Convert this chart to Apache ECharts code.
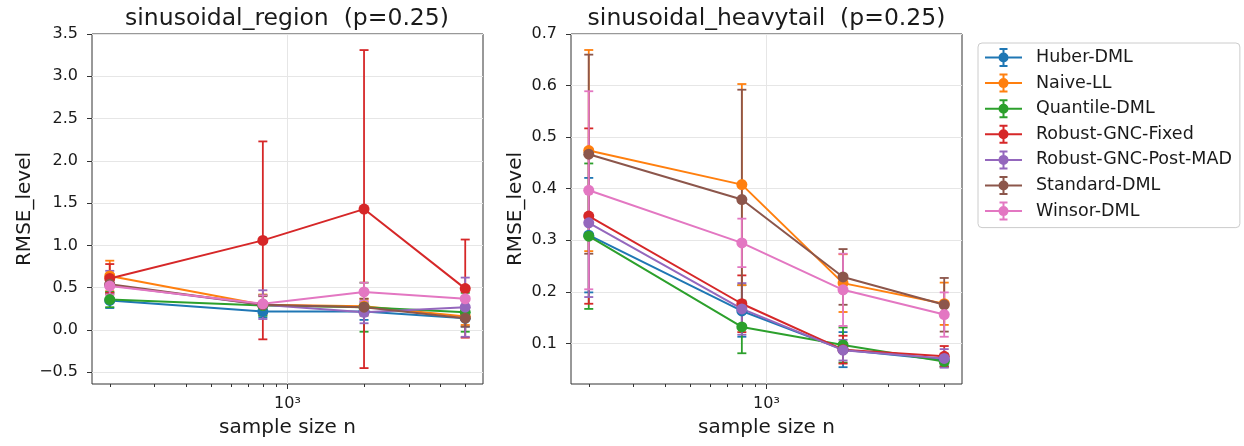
<!DOCTYPE html>
<html>
<head>
<meta charset="utf-8">
<script src="https://cdn.jsdelivr.net/npm/echarts@6/dist/echarts.min.js"></script>
<style>
  html, body { margin: 0; padding: 0; background: #fff; }
  #chart { width: 1244px; height: 446px; }
</style>
</head>
<body>
<div id="chart"></div>
<script>
const sampleSizes = [200, 800, 2000, 5000]
const methods = ['Huber-DML', 'Naive-LL', 'Quantile-DML', 'Robust-GNC-Fixed', 'Robust-GNC-Post-MAD', 'Standard-DML', 'Winsor-DML']
const colors = ['#1f77b4', '#ff7f0e', '#2ca02c', '#d62728', '#9467bd', '#8c564b', '#e377c2']

// sinusoidal_region: mean RMSE and error half-width, one row per method
const regionMean = [
  [0.35, 0.22, 0.22, 0.14],
  [0.64, 0.30, 0.28, 0.16],
  [0.36, 0.29, 0.27, 0.21],
  [0.61, 1.06, 1.43, 0.49],
  [0.53, 0.30, 0.21, 0.27],
  [0.54, 0.30, 0.27, 0.14],
  [0.52, 0.31, 0.45, 0.37]
]
const regionErr = [
  [0.09, 0.07, 0.10, 0.10],
  [0.18, 0.12, 0.09, 0.10],
  [0.09, 0.12, 0.29, 0.23],
  [0.17, 1.17, 1.88, 0.58],
  [0.17, 0.17, 0.13, 0.35],
  [0.12, 0.10, 0.10, 0.10],
  [0.10, 0.10, 0.11, 0.15]
]

// sinusoidal_heavytail
const heavyMean = [
  [0.310, 0.163, 0.088, 0.068],
  [0.474, 0.408, 0.217, 0.177],
  [0.308, 0.132, 0.097, 0.065],
  [0.347, 0.177, 0.088, 0.075],
  [0.334, 0.167, 0.087, 0.071],
  [0.467, 0.379, 0.229, 0.175],
  [0.397, 0.295, 0.204, 0.156]
]
const heavyErr = [
  [0.111, 0.050, 0.034, 0.012],
  [0.195, 0.195, 0.056, 0.041],
  [0.141, 0.051, 0.034, 0.010],
  [0.170, 0.055, 0.027, 0.020],
  [0.144, 0.050, 0.020, 0.018],
  [0.193, 0.213, 0.054, 0.052],
  [0.192, 0.047, 0.070, 0.043]
]

const xMajorTicks = [1000]
const xMinorTicks = [200, 300, 400, 500, 600, 700, 800, 900, 2000, 3000, 4000, 5000]
const regionTicks = [-0.5, 0, 0.5, 1, 1.5, 2, 2.5, 3, 3.5]
const heavyTicks = [0.1, 0.2, 0.3, 0.4, 0.5, 0.6, 0.7]

const font = 'DejaVu Sans'
const textColor = '#1a1a1a'
const xMin = 170.3
const xMax = 5873

// errorbar-legend icon: line + vertical bar + caps + marker
const legendIcon = 'path://M0 8.5H37V10.5H0Z M17.5 0H19.5V19H17.5Z M14.5 0H22.5V2H14.5Z M14.5 17H22.5V19H14.5Z M23.5 9.5A5 5 0 1 1 13.5 9.5A5 5 0 1 1 23.5 9.5Z'

function renderErrorBar(params, api) {
  const x = api.value(0)
  const y = api.value(1)
  const e = api.value(2)
  const top = api.coord([x, y + e])
  const bot = api.coord([x, y - e])
  const cap = 4.5
  const style = { stroke: api.visual('color'), lineWidth: 1.8 }
  return {
    type: 'group',
    children: [
      { type: 'line', shape: { x1: top[0], y1: top[1], x2: bot[0], y2: bot[1] }, style },
      { type: 'line', shape: { x1: top[0] - cap, y1: top[1], x2: top[0] + cap, y2: top[1] }, style },
      { type: 'line', shape: { x1: bot[0] - cap, y1: bot[1], x2: bot[0] + cap, y2: bot[1] }, style }
    ]
  }
}

function xAxes(gridIndex) {
  return [
    {
      type: 'log',
      logBase: 10,
      gridIndex,
      position: 'bottom',
      min: xMin,
      max: xMax,
      axisLine: { show: false, onZero: false },
      axisTick: { show: true, length: 5, customValues: xMajorTicks, lineStyle: { color: '#333' } },
      axisLabel: {
        customValues: xMajorTicks,
        formatter: () => '10³',
        margin: 12,
        fontFamily: font,
        fontSize: 16,
        color: textColor
      },
      splitLine: { show: true, lineStyle: { color: '#e6e6e6', width: 1 } },
      name: 'sample size n',
      nameLocation: 'middle',
      nameGap: 34,
      nameTextStyle: { fontFamily: font, fontSize: 20, color: textColor }
    },
    {
      type: 'log',
      logBase: 10,
      gridIndex,
      position: 'bottom',
      min: xMin,
      max: xMax,
      axisLine: { show: false, onZero: false },
      axisTick: { show: true, length: 3, customValues: xMinorTicks, lineStyle: { color: '#333' } },
      axisLabel: { show: false },
      splitLine: { show: false }
    }
  ]
}

function yAxis(gridIndex, min, max, ticks, splitNumber, nameGap) {
  return {
    type: 'value',
    gridIndex,
    position: 'left',
    min,
    max,
    splitNumber,
    axisLine: { show: false, onZero: false },
    axisTick: { show: true, length: 5, customValues: ticks, lineStyle: { color: '#333' } },
    axisLabel: {
      customValues: ticks,
      margin: 14,
      fontFamily: font,
      fontSize: 16,
      color: textColor,
      formatter: v => (v < 0 ? '\u2212' : '') + Math.abs(v).toFixed(1)
    },
    splitLine: { show: true, lineStyle: { color: '#e6e6e6', width: 1 } },
    name: 'RMSE_level',
    nameLocation: 'middle',
    nameRotate: 90,
    nameGap,
    nameTextStyle: { fontFamily: font, fontSize: 20, color: textColor }
  }
}

const series = []
const panels = [
  { mean: regionMean, err: regionErr, xAxisIndex: 0, yAxisIndex: 0 },
  { mean: heavyMean, err: heavyErr, xAxisIndex: 2, yAxisIndex: 1 }
]
panels.forEach(p => {
  methods.forEach((name, i) => {
    series.push({
      name,
      type: 'custom',
      xAxisIndex: p.xAxisIndex,
      yAxisIndex: p.yAxisIndex,
      z: 2,
      itemStyle: { color: colors[i] },
      renderItem: renderErrorBar,
      encode: { x: 0, y: 1 },
      data: sampleSizes.map((n, k) => [n, p.mean[i][k], p.err[i][k]]),
      silent: true
    })
  })
})
panels.forEach(p => {
  methods.forEach((name, i) => {
    series.push({
      name,
      type: 'line',
      xAxisIndex: p.xAxisIndex,
      yAxisIndex: p.yAxisIndex,
      z: 3,
      symbol: 'circle',
      symbolSize: 11,
      showAllSymbol: true,
      color: colors[i],
      lineStyle: { width: 2, color: colors[i] },
      itemStyle: { color: colors[i], borderWidth: 0 },
      data: sampleSizes.map((n, k) => [n, p.mean[i][k]])
    })
  })
})

const chart = echarts.init(document.getElementById('chart'))
chart.setOption({
  backgroundColor: '#fff',
  animation: false,
  color: colors,
  graphic: [
    { type: 'text', x: 287, y: 7, style: { text: 'sinusoidal_region  (p=0.25)', align: 'center', verticalAlign: 'top', fontFamily: font, fontSize: 23.5, fill: textColor } },
    { type: 'text', x: 766.5, y: 7, style: { text: 'sinusoidal_heavytail  (p=0.25)', align: 'center', verticalAlign: 'top', fontFamily: font, fontSize: 23.5, fill: textColor } }
  ],
  legend: {
    orient: 'vertical',
    left: 978,
    top: 43,
    padding: [5, 8, 7, 7],
    itemWidth: 37,
    itemHeight: 19,
    itemGap: 6.6,
    icon: legendIcon,
    borderColor: '#cccccc',
    borderWidth: 1,
    borderRadius: 4,
    backgroundColor: '#fff',
    textStyle: { fontFamily: font, fontSize: 17.5, color: textColor, padding: [0, 0, 0, 9] },
    data: methods.map((name, i) => ({ name, itemStyle: { color: colors[i], borderWidth: 0 } }))
  },
  grid: [
    { left: 92, top: 34, width: 391, height: 350, show: true, borderColor: '#333', borderWidth: 1, backgroundColor: 'transparent' },
    { left: 571, top: 34, width: 391, height: 350, show: true, borderColor: '#333', borderWidth: 1, backgroundColor: 'transparent' }
  ],
  xAxis: [...xAxes(0), ...xAxes(1)],
  yAxis: [
    yAxis(0, -0.638, 3.5, regionTicks, 8, 55),
    yAxis(1, 0.0214, 0.7, heavyTicks, 7, 45.5)
  ],
  series
})
</script>
</body>
</html>
